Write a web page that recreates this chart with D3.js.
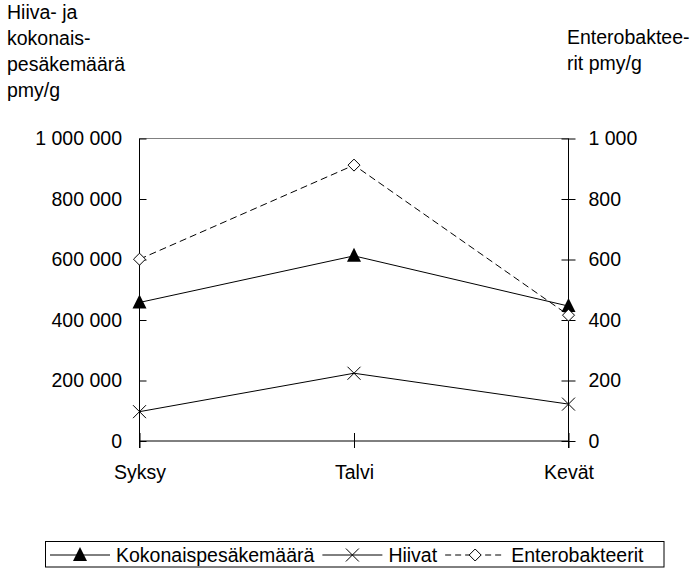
<!DOCTYPE html>
<html>
<head>
<meta charset="utf-8">
<script src="https://cdn.jsdelivr.net/npm/d3@7"></script>
<style>
  body { margin: 0; background: #fff; }
  svg text { font-family: "Liberation Sans", Arial, sans-serif; font-size: 19.5px; fill: #000; }
</style>
</head>
<body>
<div id="chart"></div>
<script>
// Size of the svg
const width = 693;
const height = 568;
const plot = { left: 139.5, right: 568.5, top: 138.5, bottom: 441 };

// Data
const seasons = ["Syksy", "Talvi", "Kevät"];
const kokonais = [458000, 612000, 446000];   // left axis
const hiivat = [97000, 224000, 122000];      // left axis
const entero = [601, 912, 416];              // right axis
const leftTicks = [0, 200000, 400000, 600000, 800000, 1000000];
const rightTicks = [0, 200, 400, 600, 800, 1000];
const leftTitle = ["Hiiva- ja", "kokonais-", "pesäkemäärä", "pmy/g"];
const rightTitle = ["Enterobaktee-", "rit pmy/g"];
const legendNames = ["Kokonaispesäkemäärä", "Hiivat", "Enterobakteerit"];

// Finnish style number format: 1 000 000
const fi = d3.formatLocale({ decimal: ",", thousands: " ", grouping: [3], currency: ["", ""] });
const fmt = fi.format(",");

const svg = d3.select("#chart").append("svg")
  .attr("width", width)
  .attr("height", height);

// Scales
const x = d3.scalePoint().domain(seasons).range([plot.left, plot.right]);
const yL = d3.scaleLinear().domain([0, 1000000]).range([plot.bottom, plot.top]);
const yR = d3.scaleLinear().domain([0, 1000]).range([plot.bottom, plot.top]);

// Top border of the plot area (grey)
svg.append("line")
  .attr("x1", plot.left).attr("x2", plot.right)
  .attr("y1", plot.top).attr("y2", plot.top)
  .attr("stroke", "#808080").attr("stroke-width", 1);

// Left axis: ticks point inwards
const gL = svg.append("g")
  .attr("transform", `translate(${plot.left},0)`)
  .call(d3.axisLeft(yL).tickValues(leftTicks).tickFormat(fmt).tickSizeInner(-7).tickSizeOuter(0).tickPadding(17.5));
gL.select(".domain").remove();
gL.selectAll(".tick line").attr("stroke", "#000");
gL.selectAll("text").attr("font-size", null).attr("font-family", null);

// Right axis: ticks cross the line
const gR = svg.append("g")
  .attr("transform", `translate(${plot.right},0)`)
  .call(d3.axisRight(yR).tickValues(rightTicks).tickFormat(fmt).tickSizeOuter(0));
gR.select(".domain").remove();
gR.selectAll(".tick line").attr("x1", -7).attr("x2", 7).attr("stroke", "#000");
gR.selectAll("text").attr("x", 20).attr("font-size", null).attr("font-family", null);

// Bottom axis: ticks cross the line
const gB = svg.append("g")
  .attr("transform", `translate(0,${plot.bottom})`)
  .call(d3.axisBottom(x).tickSizeOuter(0));
gB.select(".domain").remove();
gB.selectAll(".tick line").attr("y1", -8).attr("y2", 7).attr("stroke", "#000");
gB.selectAll("text").attr("y", 38).attr("dy", 0).attr("font-size", null).attr("font-family", null);

// Axis lines
svg.append("line").attr("x1", plot.left).attr("x2", plot.left).attr("y1", plot.top).attr("y2", plot.bottom + 7).attr("stroke", "#000");
svg.append("line").attr("x1", plot.right).attr("x2", plot.right).attr("y1", plot.top).attr("y2", plot.bottom + 7).attr("stroke", "#000");
svg.append("line").attr("x1", plot.left).attr("x2", plot.right).attr("y1", plot.bottom).attr("y2", plot.bottom).attr("stroke", "#000");

// Axis titles
svg.append("text").attr("x", 7).attr("y", 19)
  .selectAll("tspan").data(leftTitle).join("tspan")
  .attr("x", 7).attr("dy", (d, i) => i ? 26 : 0).text(d => d);
svg.append("text").attr("x", 567).attr("y", 44)
  .selectAll("tspan").data(rightTitle).join("tspan")
  .attr("x", 567).attr("dy", (d, i) => i ? 26 : 0).text(d => d);

// Marker shapes
function triangle(g) {
  g.append("path").attr("d", "M0,-8L7,6L-7,6Z").attr("fill", "#000");
}
function cross(g) {
  g.append("path").attr("d", "M-6.5,-6.5L6.5,6.5M-6.5,6.5L6.5,-6.5").attr("stroke", "#000").attr("stroke-width", 1).attr("fill", "none");
}
function diamond(g) {
  g.append("path").attr("d", "M0,-6L6,0L0,6L-6,0Z").attr("fill", "#fff").attr("stroke", "#000").attr("stroke-width", 1);
}

const series = [
  { name: legendNames[0], values: kokonais, y: yL, dash: null, marker: triangle },
  { name: legendNames[1], values: hiivat, y: yL, dash: null, marker: cross },
  { name: legendNames[2], values: entero, y: yR, dash: "7,4", marker: diamond }
];

// Lines and markers
series.forEach(s => {
  const line = d3.line().x((d, i) => x(seasons[i])).y(d => s.y(d));
  svg.append("path")
    .datum(s.values)
    .attr("d", line)
    .attr("fill", "none")
    .attr("stroke", "#000")
    .attr("stroke-width", 1)
    .attr("stroke-dasharray", s.dash);
  s.values.forEach((v, i) => {
    const g = svg.append("g").attr("transform", `translate(${x(seasons[i])},${s.y(v)})`);
    s.marker(g);
  });
});

// Legend
const legend = svg.append("g");
const legY = 555;
let lx = 50;
series.forEach(s => {
  legend.append("line")
    .attr("x1", lx).attr("x2", lx + 60)
    .attr("y1", legY).attr("y2", legY)
    .attr("stroke", "#000").attr("stroke-dasharray", s.dash ? "6,4" : null);
  s.marker(legend.append("g").attr("transform", `translate(${lx + 30},${legY})`));
  const t = legend.append("text").attr("x", lx + 66).attr("y", legY + 7).text(s.name);
  lx += 66 + t.node().getComputedTextLength() + 8;
});
legend.insert("rect", ":first-child")
  .attr("x", 45.5).attr("y", 541.5)
  .attr("width", Math.max(lx, 664) - 45.5).attr("height", 25.5)
  .attr("fill", "#fff").attr("stroke", "#000");
</script>
</body>
</html>
